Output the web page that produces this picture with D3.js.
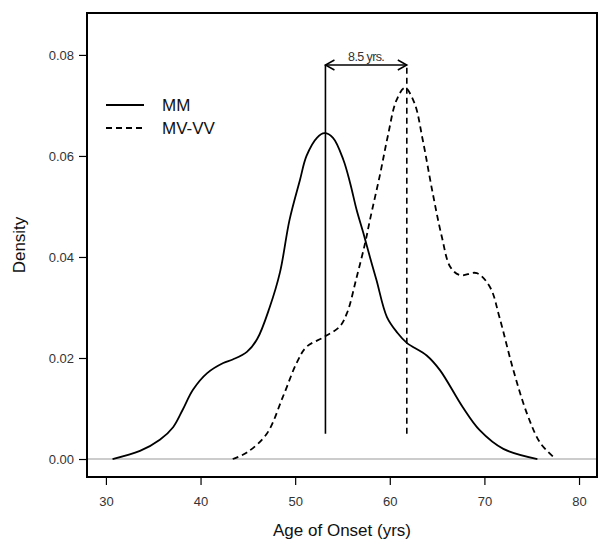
<!DOCTYPE html>
<html>
<head>
<meta charset="utf-8">
<script src="https://cdn.jsdelivr.net/npm/d3@7"></script>
<style>
  body { margin: 0; background: #fff; }
  text { font-family: "Liberation Sans", Arial, sans-serif; }
</style>
</head>
<body>
<div id="viz"></div>
<script>
// density curves (age, density)
var mmAge = [30.7, 33.6, 35.7, 37.1, 38.1, 39.2, 40.7, 42.4, 43.4, 44.9, 46.0, 47.3, 48.4, 49.4, 50.5, 51.2, 52.3, 53.1,
             54.0, 55.1, 55.8, 56.5, 57.2, 57.9, 58.6, 59.7, 60.8, 61.8, 63.9, 65.3, 67.7, 69.5, 72.0, 75.6];
var mmDens = [0.0000, 0.0016, 0.0038, 0.0063, 0.0097, 0.0137, 0.0170, 0.0190, 0.0197, 0.0212, 0.0238, 0.0300, 0.0370, 0.0473, 0.0552, 0.0600, 0.0636, 0.0645,
              0.0636, 0.0592, 0.0547, 0.0493, 0.0448, 0.0400, 0.0354, 0.0281, 0.0250, 0.0230, 0.0205, 0.0176, 0.0103, 0.0057, 0.0020, 0.0000];

var mvAge = [43.4, 44.9, 47.0, 48.7, 50.2, 51.2, 53.1, 54.7, 55.5, 56.5, 57.4, 57.9, 59.0, 59.8, 60.7, 61.6, 62.6,
             63.5, 64.5, 65.5, 66.4, 67.4, 69.2, 70.6, 71.6, 73.0, 74.5, 75.9, 77.3];
var mvDens = [0.0000, 0.0013, 0.0050, 0.0123, 0.0192, 0.0222, 0.0242, 0.0262, 0.0290, 0.0360, 0.0428, 0.0473, 0.0566, 0.0640, 0.0710, 0.0735, 0.0705,
              0.0630, 0.0530, 0.0440, 0.0380, 0.0364, 0.0368, 0.0340, 0.0280, 0.0180, 0.0090, 0.0032, 0.0004];

// medians / peak markers and the gap label
var markAge = [53.2, 61.8];
var markFrom = 0.005, markTo = 0.078;
var gapLabel = "8.5 yrs.";

var xTicks = [30, 40, 50, 60, 70, 80];
var yTicks = [0.00, 0.02, 0.04, 0.06, 0.08];
var seriesNames = ["MM", "MV-VV"];

var W = 598, H = 542;
var plotLeft = 87, plotRight = 597, plotTop = 13, plotBottom = 477;

var svg = d3.select('#viz').append('svg')
  .attr('width', W)
  .attr('height', H);

var x = d3.scaleLinear().domain([28, 81.9]).range([plotLeft, plotRight]);
var y = d3.scaleLinear().domain([-0.00356, 0.0883]).range([plotBottom, plotTop]);

// zero line
svg.append('line')
  .attr('x1', plotLeft).attr('x2', plotRight)
  .attr('y1', y(0)).attr('y2', y(0))
  .attr('stroke', '#9a9a9a').attr('stroke-width', 1.2);

// curves
var line = d3.line()
  .x(function(d) { return x(d[0]); })
  .y(function(d) { return y(d[1]); })
  .curve(d3.curveCatmullRom.alpha(0.5));

svg.append('path')
  .datum(d3.zip(mmAge, mmDens))
  .attr('d', line)
  .attr('fill', 'none').attr('stroke', '#000').attr('stroke-width', 1.8);

svg.append('path')
  .datum(d3.zip(mvAge, mvDens))
  .attr('d', line)
  .attr('fill', 'none').attr('stroke', '#000').attr('stroke-width', 1.8)
  .attr('stroke-dasharray', '6,4');

// vertical markers
svg.append('line')
  .attr('x1', x(markAge[0])).attr('x2', x(markAge[0]))
  .attr('y1', y(markFrom)).attr('y2', y(markTo))
  .attr('stroke', '#000').attr('stroke-width', 1.6);
svg.append('line')
  .attr('x1', x(markAge[1])).attr('x2', x(markAge[1]))
  .attr('y1', y(markFrom)).attr('y2', y(markTo))
  .attr('stroke', '#000').attr('stroke-width', 1.6)
  .attr('stroke-dasharray', '6,4');

// double arrow between them
var ay = y(markTo), ax0 = x(markAge[0]), ax1 = x(markAge[1]);
svg.append('line')
  .attr('x1', ax0).attr('x2', ax1).attr('y1', ay).attr('y2', ay)
  .attr('stroke', '#000').attr('stroke-width', 1.5);
svg.append('path')
  .attr('d', 'M' + (ax0 + 9) + ',' + (ay - 5) + 'L' + ax0 + ',' + ay + 'L' + (ax0 + 9) + ',' + (ay + 5))
  .attr('fill', 'none').attr('stroke', '#000').attr('stroke-width', 1.5);
svg.append('path')
  .attr('d', 'M' + (ax1 - 9) + ',' + (ay - 5) + 'L' + ax1 + ',' + ay + 'L' + (ax1 - 9) + ',' + (ay + 5))
  .attr('fill', 'none').attr('stroke', '#000').attr('stroke-width', 1.5);
svg.append('text')
  .attr('x', (ax0 + ax1) / 2).attr('y', ay - 4)
  .attr('text-anchor', 'middle')
  .attr('font-size', 12.5).attr('letter-spacing', -0.6)
  .attr('fill', '#333')
  .text(gapLabel);

// frame
svg.append('rect')
  .attr('x', plotLeft).attr('y', plotTop)
  .attr('width', plotRight - plotLeft).attr('height', plotBottom - plotTop)
  .attr('fill', 'none').attr('stroke', '#000').attr('stroke-width', 2);

// axes
var yAxis = svg.append('g')
  .attr('transform', 'translate(' + plotLeft + ',0)')
  .call(d3.axisLeft(y).tickValues(yTicks).tickFormat(d3.format('.2f')).tickSize(8).tickPadding(5));
var xAxis = svg.append('g')
  .attr('transform', 'translate(0,' + plotBottom + ')')
  .call(d3.axisBottom(x).tickValues(xTicks).tickSize(8).tickPadding(12));

[yAxis, xAxis].forEach(function(g) {
  g.attr('font-size', 13).attr('font-family', '"Liberation Sans", Arial, sans-serif');
  g.select('.domain').remove();
  g.selectAll('.tick line').attr('stroke', '#000').attr('stroke-width', 1.2);
  g.selectAll('.tick text').attr('fill', '#333');
});

// axis titles
svg.append('text')
  .attr('x', 342).attr('y', 536)
  .attr('text-anchor', 'middle')
  .attr('font-size', 17).attr('fill', '#111')
  .text('Age of Onset (yrs)');
svg.append('text')
  .attr('transform', 'translate(25,245) rotate(-90)')
  .attr('text-anchor', 'middle')
  .attr('font-size', 17).attr('fill', '#111')
  .text('Density');

// legend
var legend = svg.append('g');
seriesNames.forEach(function(name, i) {
  var ly = 105 + i * 23;
  legend.append('line')
    .attr('x1', 106).attr('x2', 144).attr('y1', ly).attr('y2', ly)
    .attr('stroke', '#000').attr('stroke-width', 1.8)
    .attr('stroke-dasharray', i === 0 ? null : '6,4');
  legend.append('text')
    .attr('x', 162).attr('y', ly + 6)
    .attr('font-size', 17).attr('fill', '#111')
    .text(name);
});
</script>
</body>
</html>
